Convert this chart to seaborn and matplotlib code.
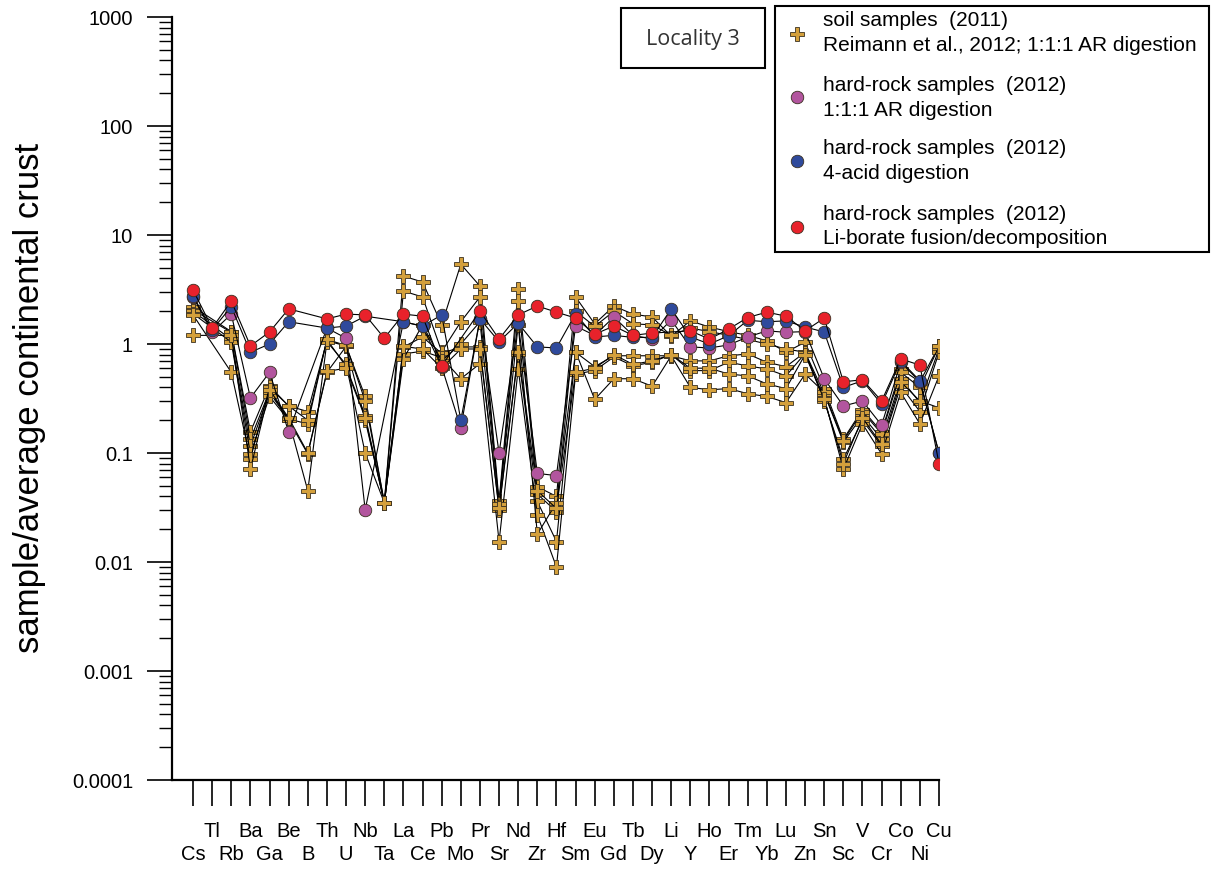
import numpy as np
import pandas as pd
import matplotlib
matplotlib.use("Agg")
import matplotlib.pyplot as plt
import seaborn as sns
from matplotlib.ticker import LogLocator, FixedLocator, FixedFormatter, NullFormatter
from matplotlib.patches import Rectangle
from matplotlib.lines import Line2D

nan = np.nan

elements = ["Cs", "Tl", "Rb", "Ba", "Ga", "Be", "B", "Th", "U", "Nb", "Ta", "La", "Ce", "Pb",
            "Mo", "Pr", "Sr", "Nd", "Zr", "Hf", "Sm", "Eu", "Gd", "Tb", "Dy", "Li", "Y", "Ho",
            "Er", "Tm", "Yb", "Lu", "Zn", "Sn", "Sc", "V", "Cr", "Co", "Ni", "Cu"]

# soil samples (2011), Reimann et al., 2012; 1:1:1 AR digestion
soil_1 = [2.2, nan, 1.3, 0.156, 0.41, 0.27, 0.24, 1.07, 0.96, 0.33, 0.035, 4.2, 3.7, 1.5, 5.4, 3.4,
          0.036, 3.2, 0.049, 0.040, 2.7, 1.53, 2.23, 1.88, 1.77, 1.18, 1.63, 1.43, 1.3, 1.2, 1.07,
          0.84, 1.04, 0.39, 0.134, 0.25, 0.156, 0.59, 0.45, 0.96]
soil_2 = [2.05, nan, 1.28, 0.134, 0.37, 0.205, 0.185, 1.10, 0.62, 0.22, 0.035, 3.06, 2.7, 0.85, 1.6,
          2.7, 0.033, 2.5, 0.042, 0.029, 2.0, 1.45, 2.0, 1.53, 1.5, 1.2, 1.4, 1.3, 1.2, 1.1, 1.0,
          0.9, 0.84, 0.35, 0.126, 0.22, 0.134, 0.48, 0.29, 0.90]
soil_3 = [2.0, nan, 1.1, 0.116, 0.36, 0.20, 0.098, 0.55, 0.95, 0.20, 0.035, 0.94, 1.16, 0.82, 0.94,
          0.94, 0.030, 0.81, 0.036, 0.0154, 0.84, 0.62, 0.78, 0.78, 0.78, 0.78, 0.70, 0.70, 0.78,
          0.81, 0.68, 0.62, 0.84, 0.30, 0.088, 0.20, 0.116, 0.41, 0.24, 0.84]
soil_4 = [1.9, nan, 1.04, 0.098, 0.33, 0.20, 0.045, 1.05, 0.65, 0.10, 0.035, 0.81, 0.86, 0.75, 0.48,
          0.66, 0.0154, 0.59, 0.027, 0.009, 0.53, 0.57, 0.76, 0.63, 0.68, 0.80, 0.57, 0.57, 0.68,
          0.63, 0.59, 0.51, 0.82, 0.32, 0.071, 0.185, 0.098, 0.36, 0.185, 0.51]
soil_5 = [1.85, nan, 0.55, 0.088, 0.40, 0.27, 0.20, 1.10, 0.97, 0.30, 0.035, 0.73, 1.5, 0.7, 1.0,
          1.6, 0.034, 1.5, 0.018, 0.035, 0.85, 0.31, 0.48, 0.48, 0.41, 0.78, 0.40, 0.38, 0.39,
          0.35, 0.33, 0.29, 0.53, 0.36, 0.13, 0.24, 0.15, 0.55, 0.40, 0.95]
soil_6 = [1.2, nan, 1.2, 0.071, 0.38, 0.21, 0.10, 0.56, 0.60, 0.21, 0.035, 0.95, 0.9, 0.6, 0.9,
          0.9, 0.031, 0.85, 0.045, 0.031, 0.55, 0.60, 0.80, 0.65, 0.70, 0.80, 0.60, 0.60, 0.53,
          0.51, 0.43, 0.39, 0.80, 0.31, 0.08, 0.21, 0.12, 0.45, 0.30, 0.26]

# hard-rock samples (2012)
rock_ar = [2.7, 1.28, 1.88, 0.32, 0.55, 0.156, nan, 1.4, 1.13, 0.03, nan, 1.6, 1.45, 0.62, 0.17, 1.7,
           0.10, 1.55, 0.065, 0.062, 1.46, 1.2, 1.77, 1.2, 1.11, 1.66, 0.94, 0.92, 0.98, 1.16, 1.32,
           1.28, 1.3, 0.48, 0.27, 0.30, 0.18, 0.68, 0.45, 0.10]
rock_4acid = [2.76, 1.35, 2.2, 0.84, 1.0, 1.6, nan, 1.4, 1.46, 1.8, nan, 1.6, 1.46, 1.85, 0.2, 1.7,
              1.05, 1.55, 0.94, 0.92, 1.9, 1.16, 1.2, 1.15, 1.15, 2.1, 1.16, 1.0, 1.19, 1.65, 1.6,
              1.63, 1.43, 1.29, 0.40, 0.46, 0.28, 0.70, 0.46, 0.10]
rock_liborate = [3.13, 1.4, 2.48, 0.96, 1.29, 2.1, nan, 1.7, 1.88, 1.85, 1.13, 1.88, 1.8, 0.63, nan,
                 2.0, 1.11, 1.85, 2.23, 1.96, 1.73, 1.23, 1.46, 1.2, 1.26, nan, 1.32, 1.11, 1.37,
                 1.75, 1.96, 1.8, 1.32, 1.73, 0.45, 0.47, 0.30, 0.73, 0.64, 0.08]

y_ticks = [1e-4, 1e-3, 1e-2, 1e-1, 1, 10, 100, 1000]
y_tick_labels = ["0.0001", "0.001", "0.01", "0.1", "1", "10", "100", "1000"]

legend_lines = [("soil samples  (2011)", "Reimann et al., 2012; 1:1:1 AR digestion"),
                ("hard-rock samples  (2012)", "1:1:1 AR digestion"),
                ("hard-rock samples  (2012)", "4-acid digestion"),
                ("hard-rock samples  (2012)", "Li-borate fusion/decomposition")]

SOIL_C = "#D4A03C"
PURPLE = "#B2559E"
BLUE = "#2F4A9C"
RED = "#E8222B"

sns.set_style("ticks")
plt.rcParams['font.family'] = ['Liberation Sans', 'DejaVu Sans']
plt.rcParams['text.color'] = 'black'
plt.rcParams['axes.labelcolor'] = 'black'
plt.rcParams['xtick.color'] = 'black'
plt.rcParams['ytick.color'] = 'black'

W, H = 1216, 870
fig = plt.figure(figsize=(W / 100, H / 100), dpi=100)
ax = fig.add_axes([172 / W, (H - 781) / H, (939 - 172) / W, (781 - 18) / H])
ax.set_yscale('log')

x_idx = np.arange(len(elements))


def draw(vals, marker, fc, ms, z):
    df = pd.DataFrame({'x': x_idx, 'y': vals}).dropna()
    sns.lineplot(data=df, x='x', y='y', ax=ax, color='black', lw=0.8, marker=marker,
                 markersize=ms, markerfacecolor=fc, markeredgecolor='#3a3020',
                 markeredgewidth=0.6, zorder=z, sort=False, estimator=None, legend=False)


for s in [soil_1, soil_2, soil_3, soil_4, soil_5, soil_6]:
    draw(s, 'P', SOIL_C, 9.5, 2)
draw(rock_ar, 'o', PURPLE, 9, 3)
draw(rock_4acid, 'o', BLUE, 9, 4)
draw(rock_liborate, 'o', RED, 9, 5)

ax.set_xlim(-1.1, 39)
ax.set_ylim(1e-4, 1e3)
ax.set_xlabel("")
ax.set_ylabel("")

ax.yaxis.set_major_locator(FixedLocator(y_ticks))
ax.yaxis.set_major_formatter(FixedFormatter(y_tick_labels))
ax.yaxis.set_minor_locator(LogLocator(base=10, subs=np.arange(2, 10), numticks=60))
ax.yaxis.set_minor_formatter(NullFormatter())
ax.tick_params(axis='y', which='major', left=True, length=18, width=1.2, direction='out',
               labelsize=14.5, pad=10, colors='black', labelcolor='black')
ax.tick_params(axis='y', which='minor', left=True, length=9.5, width=1.0, direction='out',
               colors='black')

ax.set_xticks(x_idx)
ax.set_xticklabels([])
ax.tick_params(axis='x', which='major', bottom=True, length=19, width=1.2, direction='out',
               colors='black')
ax.tick_params(axis='x', which='minor', bottom=False)

for sp in ['top', 'right']:
    ax.spines[sp].set_visible(False)
for sp in ['left', 'bottom']:
    ax.spines[sp].set_linewidth(1.6)
    ax.spines[sp].set_color('black')

# two-row element labels
trans = ax.get_xaxis_transform()
for i, name in enumerate(elements):
    yb = (781 - 837) / 763 if i % 2 == 1 else (781 - 860) / 763
    ax.text(i, yb, name, transform=trans, ha='center', va='baseline', fontsize=14.5,
            color='black', clip_on=False)

fig.text(30 / W, 1 - 398 / H, "sample/average continental crust", rotation=90,
         ha='center', va='center', fontsize=25, color='black')

# overlay for annotation boxes (pixel coordinates)
lax = fig.add_axes([0, 0, 1, 1], zorder=10)
lax.set_xlim(0, W)
lax.set_ylim(H, 0)
lax.axis('off')

lax.add_patch(Rectangle((621, 9), 144, 60, fill=False, lw=1.5, ec='black'))
lax.text(693, 39, "Locality 3", ha='center', va='center', fontsize=15.5,
         family=['Open Sans', 'DejaVu Sans'], color='#333333')

lax.add_patch(Rectangle((775, 7), 434, 246, fill=True, fc='white', lw=1.5, ec='black'))
line_y = [(21, 45.5), (85.5, 110), (149, 173.5), (215, 239)]
mark_y = [35, 98, 162, 228]
styles = [('P', SOIL_C, 9.5), ('o', PURPLE, 9), ('o', BLUE, 9), ('o', RED, 9)]
for (l1, l2), (y1, y2), my, (mk, fc, ms) in zip(legend_lines, line_y, mark_y, styles):
    lax.add_line(Line2D([797], [my], marker=mk, markersize=ms, markerfacecolor=fc,
                        markeredgecolor='#3a3020', markeredgewidth=0.6, linestyle='none'))
    lax.text(823, y1, l1, ha='left', va='center', fontsize=15, color='black')
    lax.text(823, y2, l2, ha='left', va='center', fontsize=15, color='black')

fig.savefig("out.png", dpi=100)
